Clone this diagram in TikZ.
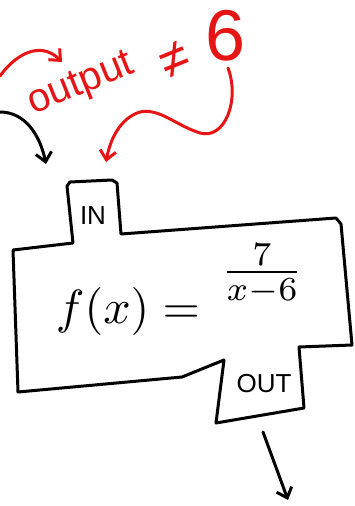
\documentclass[tikz,border=0pt]{standalone}
\usepackage{fontspec}
\setmainfont{Liberation Sans}
\usetikzlibrary{arrows.meta}
\definecolor{inkred}{RGB}{230,20,20}
\tikzset{
  ink/.style={line width=3pt, line cap=round, line join=round, draw=black},
  redink/.style={line width=3pt, line cap=round, line join=round, draw=inkred},
  blacktip/.style={-{Straight Barb[length=9pt,width=16pt,line width=3pt]}},
  redtip/.style={-{Straight Barb[length=9pt,width=16pt,line width=3pt]}},
  lbl/.style={inner sep=0pt, font=\fontsize{26}{28}\selectfont},
  rednote/.style={text=inkred, inner sep=0pt},
}
\begin{document}
\begin{tikzpicture}[x=1pt,y=-1pt]
\useasboundingbox (0,0) rectangle (354,506);
% machine outline
\draw[ink] (73,243) -- (67,186) -- (70,182) -- (112,180) -- (117,183) -- (121,234)
  -- (336,218) -- (341,224) -- (352,345) -- (299,347) -- (304,408) -- (216,423)
  -- (224,360) -- (182,377) -- (18,392) -- (13,250) -- cycle;
\node[lbl] (in) at (93,216) {IN};
\node[lbl] (out) at (264,384) {OUT};
\node[inner sep=0pt] (fx) at (128,311) {\scalebox{4.8}{$f(x)=$}};
\node[inner sep=0pt] (frac) at (262,274) {\scalebox{4.8}{$\frac{7}{x-6}$}};
% black arrows
\coordinate (b1s) at (0,112);
\coordinate (b1e) at (46,164);
\draw[ink,blacktip] (b1s) .. controls (25,112) and (40,135) .. (b1e);
\coordinate (b2s) at (263,432);
\coordinate (b2e) at (288,500);
\draw[ink,blacktip] (b2s) -- (b2e);
% red annotation
\node[rednote, rotate=22, anchor=south west, font=\fontsize{40}{44}\selectfont] (note) at (36,122) {output};
\node[rednote, rotate=22, font=\fontsize{52}{56}\selectfont] (neq) at (175,60) {≠};
\node[rednote, font=\fontsize{72}{76}\selectfont] (six) at (226,36) {6};
\coordinate (r1s) at (0,76);
\coordinate (r1e) at (62,62);
\draw[redink,redtip] (r1s) .. controls (15,55) and (40,40) .. (r1e);
\coordinate (r2s) at (228,68);
\coordinate (r2e) at (106,162);
\draw[redink,redtip] (r2s) .. controls (240,100) and (225,140) .. (200,133)
  .. controls (175,125) and (160,108) .. (140,112)
  .. controls (120,118) and (110,140) .. (r2e);
\end{tikzpicture}
\end{document}
